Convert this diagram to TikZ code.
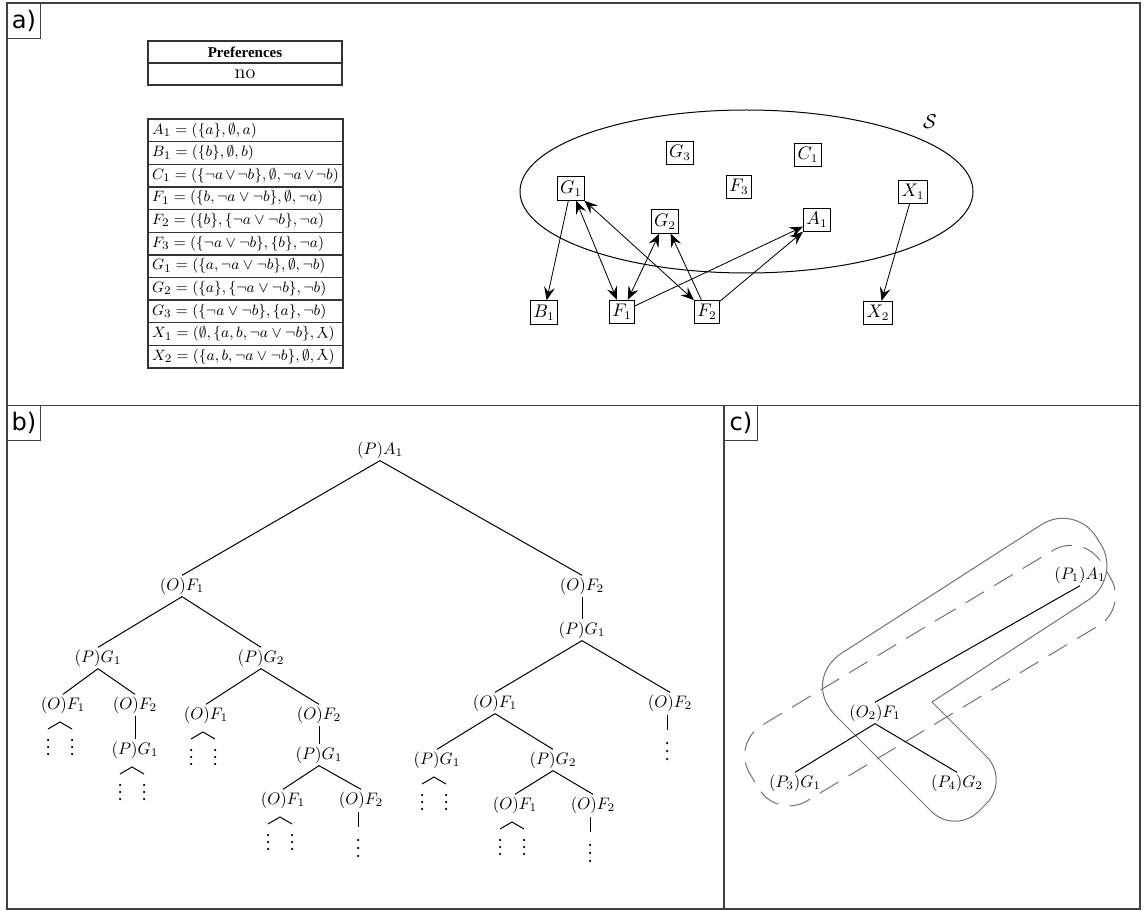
\documentclass[tikz,border=0pt]{standalone}
\usepackage{fontspec}
\usetikzlibrary{arrows.meta}
\newfontfamily\lblfont{DejaVu Sans}
\newfontfamily\tnrfont{Liberation Serif}
\newcommand{\revY}{\mathord{\rotatebox[origin=c]{180}{$\mathrm{Y}$}}}
\begin{document}
\begin{tikzpicture}[x=0.6pt,y=-0.6pt,
  panelframe/.style={draw=black!75, line width=0.9pt},
  lbl/.style={draw=black!75, line width=0.6pt, font=\lblfont\fontsize{14.5}{16}\selectfont, minimum width=19.8pt, minimum height=20.8pt, inner sep=0pt, anchor=north west},
  prefrow/.style={draw=black!80, line width=0.8pt, minimum width=116.4pt, minimum height=13.2pt, inner sep=0pt},
  argrow/.style={draw=black!80, line width=0.8pt, text width=112pt, align=left, inner xsep=2.5pt, inner ysep=0pt, minimum height=13.58pt, font=\fontsize{9.3}{11}\selectfont},
  abox/.style={draw, line width=0.6pt, inner sep=1.8pt, minimum height=14pt, font=\fontsize{10.5}{12}\selectfont},
  tip/.tip={Stealth[length=8pt,width=6.5pt,inset=3pt]},
  arr/.style={line width=0.5pt, -tip},
  darr/.style={line width=0.5pt, tip-tip},
  tn/.style={inner sep=1.2pt, font=\fontsize{10.3}{12}\selectfont},
  te/.style={line width=0.6pt},
  hull/.style={draw=black!55, line width=0.6pt},
  dhull/.style={draw=black!55, line width=0.6pt, dash pattern=on 13pt off 7pt},
  caretleaf/.pic={\draw[line width=0.6pt] (-12,7) -- (0,0) -- (12,7);
    \foreach \xx in {-12,12} {\foreach \yy in {18,25,32} {\fill (\xx,\yy) circle (0.75pt);}}},
  lineleaf/.pic={\draw[line width=0.6pt] (0,12) -- (0,27);
    \foreach \yy in {40,48,56} {\fill (0,\yy) circle (0.75pt);}}
]
\useasboundingbox (0,0) rectangle (1147,911);
\fill[white] (0,0) rectangle (1147,911);
% frames
\draw[panelframe] (7,3) rectangle (1140,909);
\draw[panelframe] (7,405.5) -- (1140,405.5);
\draw[panelframe] (724,405.5) -- (724,909);
\node[lbl] (la) at (7,3) {a)};
\node[lbl] (lb) at (7,405.5) {b)};
\node[lbl] (lc) at (724,405.5) {c)};

% ---------- panel a ----------
\node[prefrow, font=\tnrfont\bfseries\fontsize{9}{10}\selectfont] (ph) at (245,52) {Preferences};
\node[prefrow, font=\rmfamily\fontsize{12}{13}\selectfont] (pv) at (245,74) {no};

\node[argrow] (r0) at (245.5,130.32) {$A_1 = (\{a\}, \emptyset, a)$};
\node[argrow] (r1) at (245.5,152.96) {$B_1 = (\{b\}, \emptyset, b)$};
\node[argrow] (r2) at (245.5,175.60) {$C_1 = (\{\neg a \vee \neg b\}, \emptyset, \neg a \vee \neg b)$};
\node[argrow] (r3) at (245.5,198.24) {$F_1 = (\{b, \neg a \vee \neg b\}, \emptyset, \neg a)$};
\node[argrow] (r4) at (245.5,220.88) {$F_2 = (\{b\}, \{\neg a \vee \neg b\}, \neg a)$};
\node[argrow] (r5) at (245.5,243.52) {$F_3 = (\{\neg a \vee \neg b\}, \{b\}, \neg a)$};
\node[argrow] (r6) at (245.5,266.16) {$G_1 = (\{a, \neg a \vee \neg b\}, \emptyset, \neg b)$};
\node[argrow] (r7) at (245.5,288.80) {$G_2 = (\{a\}, \{\neg a \vee \neg b\}, \neg b)$};
\node[argrow] (r8) at (245.5,311.44) {$G_3 = (\{\neg a \vee \neg b\}, \{a\}, \neg b)$};
\node[argrow] (r9) at (245.5,334.08) {$X_1 = (\emptyset, \{a, b, \neg a \vee \neg b\}, \revY)$};
\node[argrow] (r10) at (245.5,356.72) {$X_2 = (\{a, b, \neg a \vee \neg b\}, \emptyset, \revY)$};

\draw[line width=0.6pt] (746.5,191.5) ellipse [x radius=226.5, y radius=81.5];
\node[font=\fontsize{13}{15}\selectfont] (S) at (930,122) {$\mathcal{S}$};

\node[abox] (G3) at (680,153) {$G_3$};
\node[abox] (C1) at (808,155) {$C_1$};
\node[abox] (F3) at (739,187) {$F_3$};
\node[abox] (G1) at (571,188.5) {$G_1$};
\node[abox] (X1) at (913,192) {$X_1$};
\node[abox] (G2) at (665,221.5) {$G_2$};
\node[abox] (A1) at (817,220) {$A_1$};
\node[abox] (B1) at (544,312.5) {$B_1$};
\node[abox] (F1) at (622,312) {$F_1$};
\node[abox] (F2) at (707,312) {$F_2$};
\node[abox] (X2) at (878,313) {$X_2$};

\draw[arr] (G1) -- (B1);
\draw[darr] (G1) -- (F1);
\draw[darr] (G1) -- (F2);
\draw[darr] (F1) -- (G2);
\draw[arr] (F2) -- (G2);
\draw[arr] (F1) -- (A1);
\draw[arr] (F2) -- (A1);
\draw[arr] (X1) -- (X2);

% ---------- panel b ----------
\node[tn] (r) at (380,450) {$(P)A_1$};
\node[tn] (a) at (182,586) {$(O)F_1$};
\node[tn] (b) at (582,586) {$(O)F_2$};
\node[tn] (aa) at (98,658) {$(P)G_1$};
\node[tn] (ab) at (261,658) {$(P)G_2$};
\node[tn] (aaa) at (63,705) {$(O)F_1$};
\node[tn] (aab) at (135,705) {$(O)F_2$};
\node[tn] (aabx) at (135,750) {$(P)G_1$};
\node[tn] (aba) at (206,715) {$(O)F_1$};
\node[tn] (abb) at (319,715) {$(O)F_2$};
\node[tn] (abbx) at (319,755) {$(P)G_1$};
\node[tn] (abbxa) at (283,800) {$(O)F_1$};
\node[tn] (abbxb) at (361,800) {$(O)F_2$};
\node[tn] (bx) at (582,630) {$(P)G_1$};
\node[tn] (bxa) at (495,703) {$(O)F_1$};
\node[tn] (bxb) at (670,703) {$(O)F_2$};
\node[tn] (bxaa) at (437,760) {$(P)G_1$};
\node[tn] (bxab) at (553,760) {$(P)G_2$};
\node[tn] (bxaba) at (515,805) {$(O)F_1$};
\node[tn] (bxabb) at (593,805) {$(O)F_2$};

\foreach \p/\c in {r/a, r/b, a/aa, a/ab, aa/aaa, aa/aab, aab/aabx, ab/aba, ab/abb,
  abb/abbx, abbx/abbxa, abbx/abbxb, b/bx, bx/bxa, bx/bxb, bxa/bxaa, bxa/bxab,
  bxab/bxaba, bxab/bxabb}
  {\draw[te] (\p.south) -- (\c.north);}

\foreach \n in {aaa, aabx, aba, abbxa, bxaa, bxaba}
  {\pic at ([shift={(-3,17)}]\n.center) {caretleaf};}
\foreach \n in {abbxb, bxb, bxabb}
  {\pic at ([shift={(-3,0)}]\n.center) {lineleaf};}

% ---------- panel c ----------
\draw[hull] (937.5,591.5) [rounded corners=24pt] -- (1075,503) -- (1122,578)
  [sharp corners] -- (932,702) [rounded corners=20pt] -- (1010,780) -- (955,835)
  [rounded corners=30pt] -- (800,680) -- cycle;
\draw[dhull] (907,638) [rounded corners=21pt] -- (1083.1,532.3) -- (1128.5,607.7)
  -- (777,818.9) -- (731.7,743.5) -- cycle;

\node[tn] (c1) at (1080,575) {$(P_1)A_1$};
\node[tn] (c2) at (875,713) {$(O_2)F_1$};
\node[tn] (c3) at (795,783) {$(P_3)G_1$};
\node[tn] (c4) at (957,783) {$(P_4)G_2$};
\draw[te] (c1.south) -- (c2.north);
\draw[te] (c2.south) -- (c3.north);
\draw[te] (c2.south) -- (c4.north);
\end{tikzpicture}
\end{document}
